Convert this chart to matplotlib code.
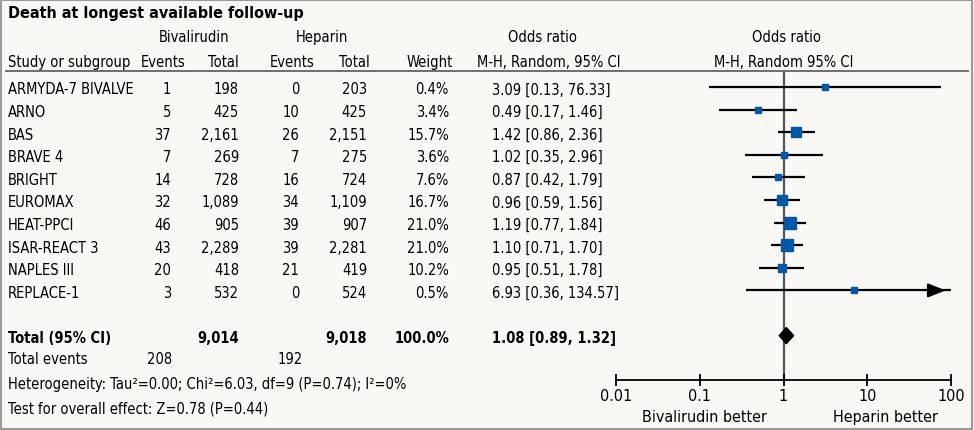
import matplotlib
matplotlib.use("Agg")
import matplotlib.pyplot as plt
import matplotlib.transforms as mtransforms
from matplotlib.patches import Rectangle
import numpy as np

plt.rcParams["font.family"] = ["DejaVu Sans"]
plt.rcParams["font.stretch"] = "condensed"
plt.rcParams["font.size"] = 10.5

# Data
studies = ["ARMYDA-7 BIVALVE", "ARNO", "BAS", "BRAVE 4", "BRIGHT", "EUROMAX",
           "HEAT-PPCI", "ISAR-REACT 3", "NAPLES III", "REPLACE-1"]
biv_events = [1, 5, 37, 7, 14, 32, 46, 43, 20, 3]
biv_total = [198, 425, 2161, 269, 728, 1089, 905, 2289, 418, 532]
hep_events = [0, 10, 26, 7, 16, 34, 39, 39, 21, 0]
hep_total = [203, 425, 2151, 275, 724, 1109, 907, 2281, 419, 524]
weights = [0.4, 3.4, 15.7, 3.6, 7.6, 16.7, 21.0, 21.0, 10.2, 0.5]
odds = [3.09, 0.49, 1.42, 1.02, 0.87, 0.96, 1.19, 1.10, 0.95, 6.93]
ci_low = [0.13, 0.17, 0.86, 0.35, 0.42, 0.59, 0.77, 0.71, 0.51, 0.36]
ci_high = [76.33, 1.46, 2.36, 2.96, 1.79, 1.56, 1.84, 1.70, 1.78, 134.57]

total_or = 1.08
total_low = 0.89
total_high = 1.32
total_biv = 9014
total_hep = 9018
events_biv = 208
events_hep = 192
heterogeneity = "Heterogeneity: Tau²=0.00; Chi²=6.03, df=9 (P=0.74); I²=0%"
overall = "Test for overall effect: Z=0.78 (P=0.44)"

xticks = [0.01, 0.1, 1, 10, 100]
xticklabels = ["0.01", "0.1", "1", "10", "100"]

W, H = 974, 431
fig = plt.figure(figsize=(W / 100, H / 100), dpi=100)
fig.patch.set_facecolor("#f9f8f4")
fig.patches.append(Rectangle((0.001, 0.002), 0.997, 0.995, transform=fig.transFigure,
                             fill=False, edgecolor="#9a9a9a", lw=1.5))

# forest axes: x from 0.01 (px 616) to 100 (px 951); rows at 88 + 22.6*i px
row_h = 22.6
y0 = 88
ax = fig.add_axes([616 / W, 0, (951 - 616) / W, 1])
ax.set_xscale("log")
ax.set_xlim(0.01, 100)
ax.set_ylim((H - y0) / row_h, -y0 / row_h)
ax.patch.set_alpha(0)
for s in ["top", "left", "right"]:
    ax.spines[s].set_visible(False)
axis_row = (381 - y0) / row_h
ax.spines["bottom"].set_position(("data", axis_row))
ax.spines["bottom"].set_linewidth(1.3)
ax.set_xticks(xticks)
ax.set_xticklabels(xticklabels)
ax.minorticks_off()
ax.tick_params(axis="x", direction="inout", length=8, width=1.3, pad=2, labelsize=11.5)
ax.set_yticks([])

header_row = (72 - y0) / row_h
ax.plot([1, 1], [header_row, axis_row], color="#555555", lw=1.6, zorder=1)

rows = np.arange(len(studies))
max_side = 11.5 * 0.72
for i in rows:
    hi = min(ci_high[i], 100)
    ax.plot([ci_low[i], hi], [i, i], color="black", lw=1.6, zorder=2, solid_capstyle="butt")
    if ci_high[i] > 100:
        ax.annotate("", xy=(93, i), xytext=(50, i),
                    arrowprops=dict(arrowstyle="-|>,head_length=1.0,head_width=0.4",
                                    color="black", lw=1.6), zorder=3)
    side = max(4.2, max_side * np.sqrt(weights[i] / 21.0))
    ax.plot(odds[i], i, marker="s", ms=side, color="#0059a8", mec="#0059a8", zorder=4)

total_row = 11
ax.fill([total_low, total_or, total_high, total_or],
        [total_row, total_row - 0.36, total_row, total_row + 0.36],
        color="black", zorder=4)

# text columns (x in figure px, y in rows)
tr = mtransforms.blended_transform_factory(fig.transFigure, ax.transData)


def put(x, row, s, ha="left", bold=False, size=None):
    fig.text(x / W, row, s, transform=tr, ha=ha, va="center",
             fontweight="bold" if bold else "normal", fontsize=size)


put(8, (14 - y0) / row_h, "Death at longest available follow-up", bold=True, size=11.5)
hdr1 = (38 - y0) / row_h
hdr2 = (63 - y0) / row_h
put(194, hdr1, "Bivalirudin", ha="center")
put(322, hdr1, "Heparin", ha="center")
put(542, hdr1, "Odds ratio", ha="center")
put(786, hdr1, "Odds ratio", ha="center")
put(8, hdr2, "Study or subgroup")
put(163, hdr2, "Events", ha="center")
put(223, hdr2, "Total", ha="center")
put(292, hdr2, "Events", ha="center")
put(354, hdr2, "Total", ha="center")
put(430, hdr2, "Weight", ha="center")
put(549, hdr2, "M-H, Random, 95% CI", ha="center")
put(784, hdr2, "M-H, Random 95% CI", ha="center")

fig.lines.append(plt.Line2D([6 / W, 968 / W], [header_row, header_row], transform=tr,
                            color="#6e6e6e", lw=1.4))

dy = 0.08
for i in rows:
    r = i + dy
    put(8, r, studies[i])
    put(171, r, f"{biv_events[i]:,}", ha="right")
    put(239, r, f"{biv_total[i]:,}", ha="right")
    put(299, r, f"{hep_events[i]:,}", ha="right")
    put(367, r, f"{hep_total[i]:,}", ha="right")
    put(449, r, f"{weights[i]:.1f}%", ha="right")
    put(492, r, f"{odds[i]:.2f} [{ci_low[i]:.2f}, {ci_high[i]:.2f}]")

r = total_row + dy
put(8, r, "Total (95% CI)", bold=True)
put(239, r, f"{total_biv:,}", ha="right", bold=True)
put(367, r, f"{total_hep:,}", ha="right", bold=True)
put(449, r, "100.0%", ha="right", bold=True)
put(492, r, f"{total_or:.2f} [{total_low:.2f}, {total_high:.2f}]", bold=True)

r = (360 - y0) / row_h
put(8, r, "Total events")
put(172, r, f"{events_biv}", ha="right")
put(303, r, f"{events_hep}", ha="right")
put(8, (385 - y0) / row_h, heterogeneity)
put(8, (409 - y0) / row_h, overall)

lab_row = (418 - y0) / row_h
put(704, lab_row, "Bivalirudin better", ha="center", size=11.5)
put(885, lab_row, "Heparin better", ha="center", size=11.5)

fig.savefig("out.png", dpi=100, facecolor=fig.get_facecolor())
